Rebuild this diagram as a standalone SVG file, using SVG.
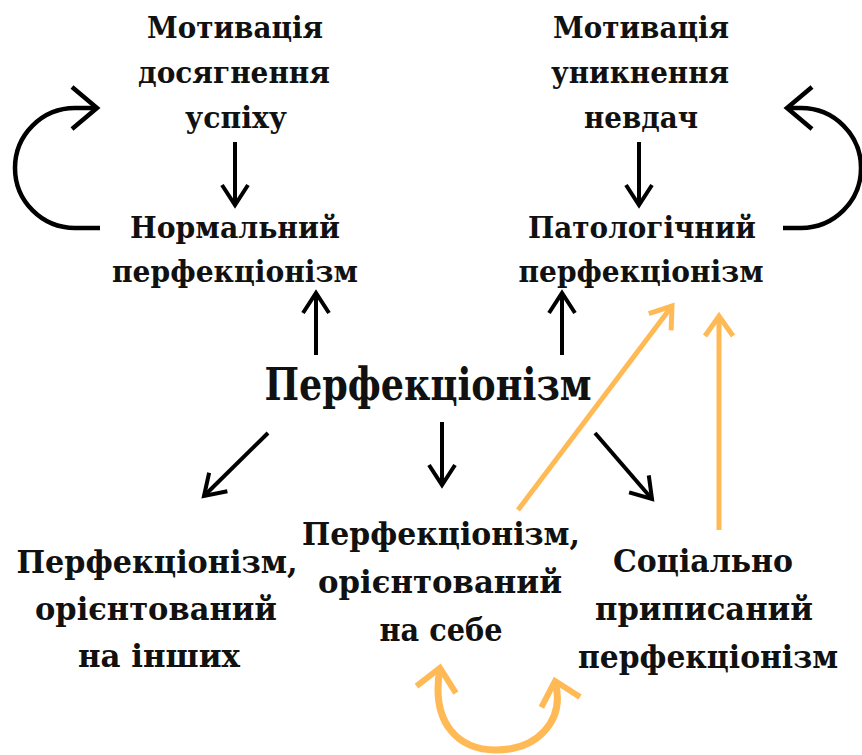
<svg xmlns="http://www.w3.org/2000/svg" width="862" height="755" viewBox="0 0 862 755">
<style>
text{font-family:"DejaVu Serif","Liberation Serif",serif;font-weight:bold;fill:#111;text-anchor:middle}
.t{font-size:29.5px}
.b{font-size:32px}
.big{font-size:44px}
.k{fill:none;stroke:#000;stroke-width:4}
.o{fill:none;stroke:#FFBA55;stroke-width:5}
</style>
<defs>
<marker id="hk" markerUnits="userSpaceOnUse" viewBox="-25 -20 30 40" markerWidth="30" markerHeight="40" refX="0" refY="0" orient="auto" overflow="visible">
<path d="M-20,-13 L0,0 L-20,13" fill="none" stroke="#000" stroke-width="4"/>
</marker>
<marker id="hkL" markerUnits="userSpaceOnUse" viewBox="-30 -25 35 50" markerWidth="35" markerHeight="50" refX="0" refY="0" orient="auto" overflow="visible">
<path d="M-25,-21 L0,0 L-25,21" fill="none" stroke="#000" stroke-width="4.5"/>
</marker>
<marker id="ho" markerUnits="userSpaceOnUse" viewBox="-25 -20 30 40" markerWidth="30" markerHeight="40" refX="0" refY="0" orient="auto" overflow="visible">
<path d="M-20,-14 L0,0 L-20,14" fill="none" stroke="#FFBA55" stroke-width="5"/>
</marker>
<marker id="ho2" markerUnits="userSpaceOnUse" viewBox="-30 -25 35 50" markerWidth="35" markerHeight="50" refX="0" refY="0" orient="auto" overflow="visible">
<path d="M-22,-20 L0,0 L-22,20" fill="none" stroke="#FFBA55" stroke-width="6"/>
</marker>
<marker id="ho2s" markerUnits="userSpaceOnUse" viewBox="-30 -25 35 50" markerWidth="35" markerHeight="50" refX="0" refY="0" orient="auto-start-reverse" overflow="visible">
<path d="M-22,-20 L0,0 L-22,20" fill="none" stroke="#FFBA55" stroke-width="6"/>
</marker>
</defs>

<g id="connectors">
<path class="k" d="M235,142 V205" marker-end="url(#hk)"/>
<path class="k" d="M639,142 V205" marker-end="url(#hk)"/>
<path class="k" d="M316,355 V293" marker-end="url(#hk)"/>
<path class="k" d="M562,355 V293" marker-end="url(#hk)"/>
<path class="k" d="M268,433 L204,496" marker-end="url(#hk)"/>
<path class="k" d="M442,422 V485" marker-end="url(#hk)"/>
<path class="k" d="M595,433 L652,499" marker-end="url(#hk)"/>
<path class="k" style="stroke-width:4.5" d="M100,228 H75 A60,60 0 0 1 75,108 H97" marker-end="url(#hkL)"/>
<path class="k" style="stroke-width:4.5" d="M783,228 H801 A60,60 0 0 0 801,108 H787" marker-end="url(#hkL)"/>
<path class="o" d="M518,510 L672,306" marker-end="url(#ho)"/>
<path class="o" d="M719,530 V316" marker-end="url(#ho)"/>
<path class="o" style="stroke-width:7" d="M440,668 C430,725 460,750 496,750 C536,750 566,722 555,681" marker-start="url(#ho2s)" marker-end="url(#ho2)"/>
</g>

<g id="motivation-success">
<text class="t" x="235" y="38" textLength="176" lengthAdjust="spacingAndGlyphs">Мотивація</text>
<text class="t" x="234" y="83" textLength="192" lengthAdjust="spacingAndGlyphs">досягнення</text>
<text class="t" x="236" y="128" textLength="102" lengthAdjust="spacingAndGlyphs">успіху</text>
</g>
<g id="motivation-failure">
<text class="t" x="641" y="38" textLength="176" lengthAdjust="spacingAndGlyphs">Мотивація</text>
<text class="t" x="640" y="83" textLength="178" lengthAdjust="spacingAndGlyphs">уникнення</text>
<text class="t" x="641" y="128" textLength="114" lengthAdjust="spacingAndGlyphs">невдач</text>
</g>
<g id="normal">
<text class="t" x="235" y="238" textLength="210" lengthAdjust="spacingAndGlyphs">Нормальний</text>
<text class="t" x="235" y="282" textLength="246" lengthAdjust="spacingAndGlyphs">перфекціонізм</text>
</g>
<g id="pathological">
<text class="t" x="642" y="238" textLength="228" lengthAdjust="spacingAndGlyphs">Патологічний</text>
<text class="t" x="641" y="282" textLength="245" lengthAdjust="spacingAndGlyphs">перфекціонізм</text>
</g>
<g id="perfectionism">
<text class="big" x="428" y="400" textLength="327" lengthAdjust="spacingAndGlyphs">Перфекціонізм</text>
</g>
<g id="other-oriented">
<text class="b" x="157" y="573" textLength="281" lengthAdjust="spacingAndGlyphs">Перфекціонізм,</text>
<text class="b" x="156" y="620" textLength="242" lengthAdjust="spacingAndGlyphs">орієнтований</text>
<text class="b" x="159" y="667" textLength="162" lengthAdjust="spacingAndGlyphs">на інших</text>
</g>
<g id="self-oriented">
<text class="b" x="441" y="545" textLength="278" lengthAdjust="spacingAndGlyphs">Перфекціонізм,</text>
<text class="b" x="440" y="593" textLength="244" lengthAdjust="spacingAndGlyphs">орієнтований</text>
<text class="b" x="441" y="641" textLength="123" lengthAdjust="spacingAndGlyphs">на себе</text>
</g>
<g id="socially-prescribed">
<text class="b" x="703" y="572" textLength="180" lengthAdjust="spacingAndGlyphs">Соціально</text>
<text class="b" x="704" y="620" textLength="218" lengthAdjust="spacingAndGlyphs">приписаний</text>
<text class="b" x="708" y="668" textLength="260" lengthAdjust="spacingAndGlyphs">перфекціонізм</text>
</g>
</svg>
